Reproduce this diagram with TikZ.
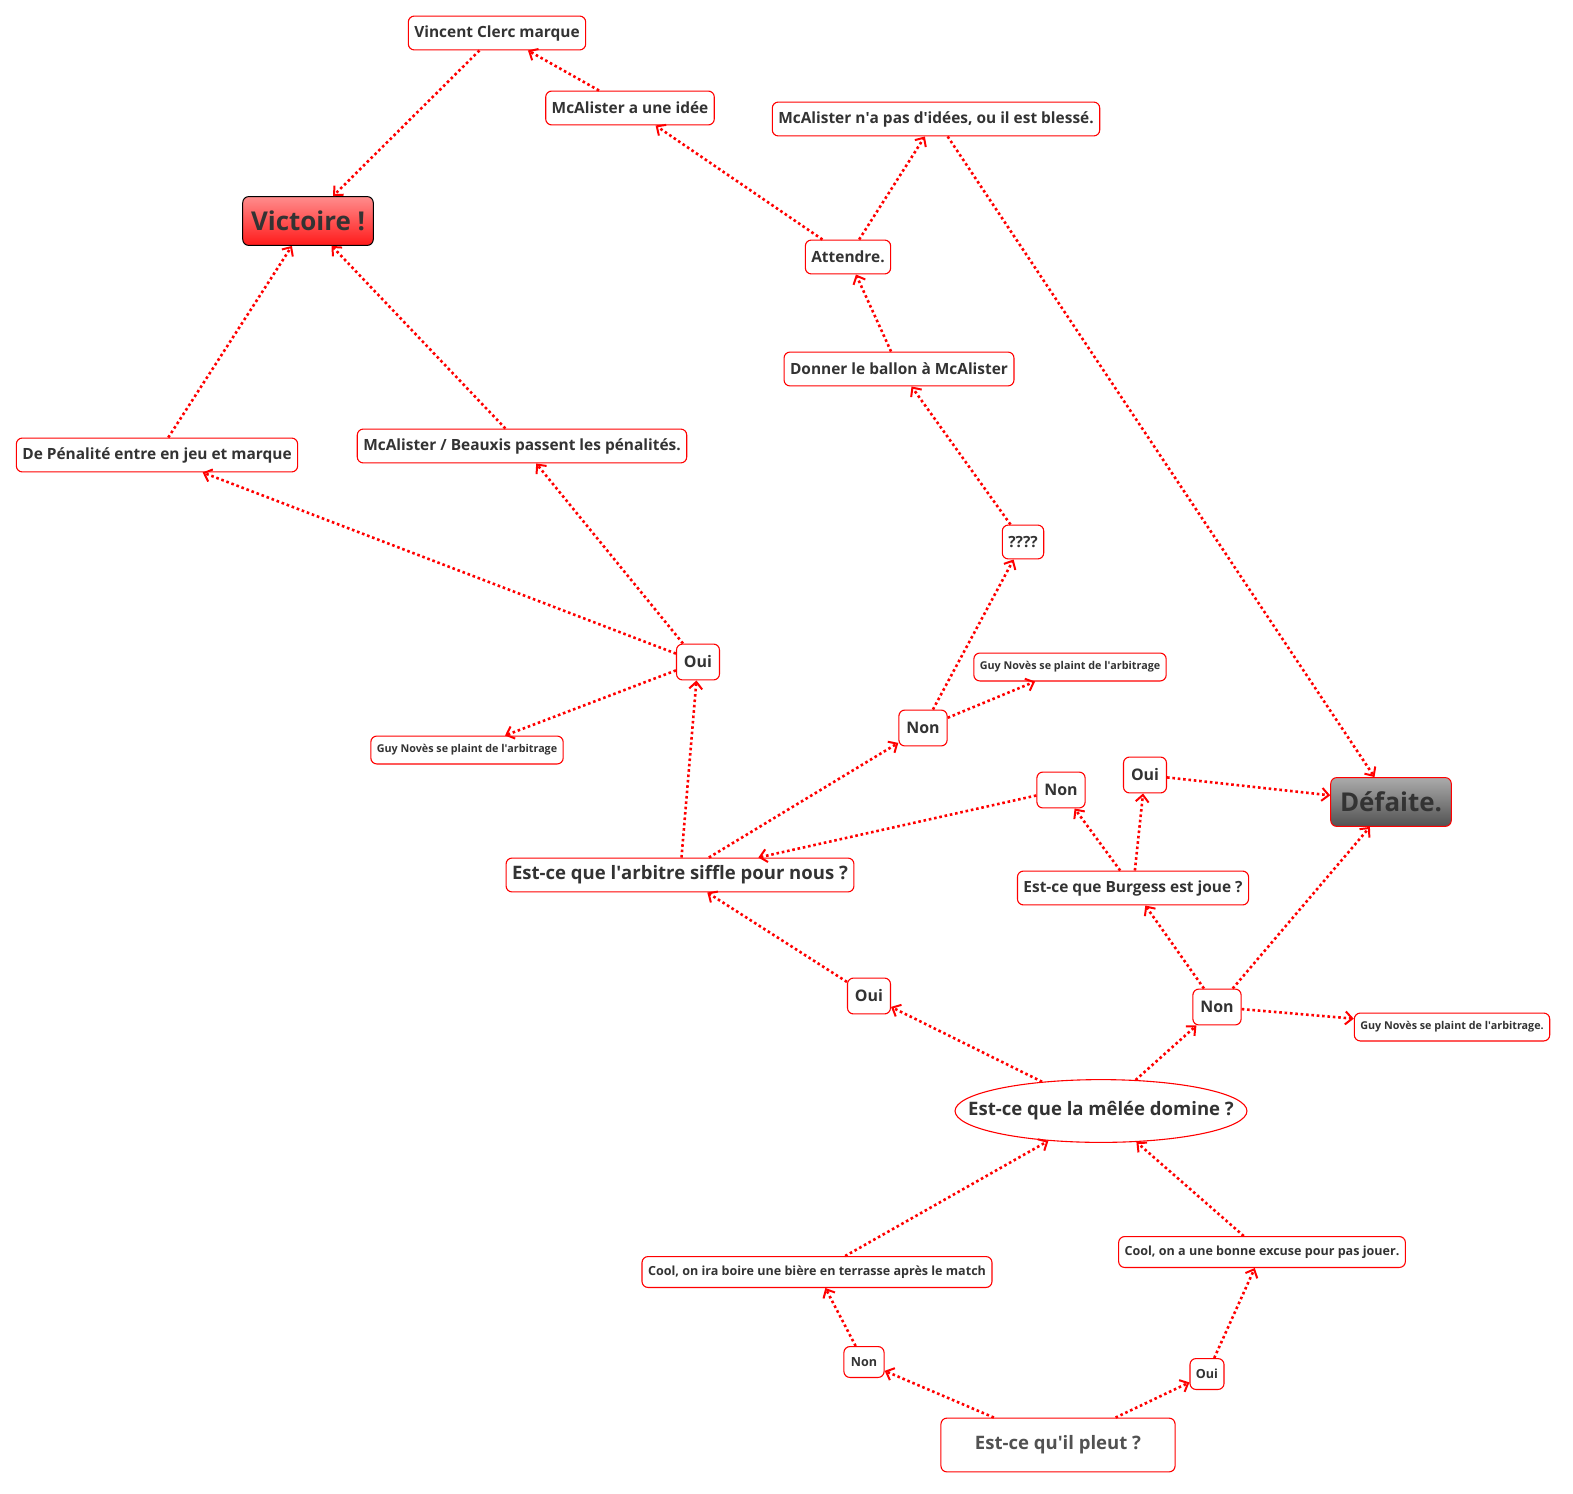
\documentclass[tikz,border=0pt]{standalone}
\usepackage{fontspec}
\setmainfont{Open Sans}
\usetikzlibrary{arrows.meta,shapes.geometric}
\definecolor{txtgray}{HTML}{333333}
\definecolor{vicred}{HTML}{FF1A1A}
\newcommand\apos{\textquotesingle}
\tikzset{
  box/.style={draw=red, fill=white, rounded corners=6pt, line width=1.1pt, text=txtgray,
    font=\bfseries\fontsize{15.5}{18}\selectfont, inner xsep=6pt, minimum height=34pt},
  small/.style={box, font=\bfseries\fontsize{10.8}{13}\selectfont, minimum height=28pt},
  cool/.style={box, font=\bfseries\fontsize{12.6}{15}\selectfont, minimum height=31pt},
  answer/.style={box, font=\bfseries\fontsize{16}{19}\selectfont, minimum height=36pt, inner xsep=7.5pt},
  question/.style={box, font=\bfseries\fontsize{18.6}{22}\selectfont},
  link/.style={red, line width=2.6pt, dash pattern=on 2.6pt off 2.8pt,
    -{Straight Barb[length=7pt,width=13pt,line width=2pt]}}
}
\begin{document}
\begin{tikzpicture}[x=1bp,y=-1bp]
  \useasboundingbox (0,0) rectangle (1573,1494);

  % haut
  \node[box] (clerc) at (497,33) {Vincent Clerc marque};
  \node[box] (idee) at (630,108) {McAlister a une idée};
  \node[box] (pasidee) at (936,119) {McAlister n\apos a pas d\apos idées, ou il est blessé.};
  \node[draw=black, line width=1pt, rounded corners=6pt, top color=red!45, bottom color=vicred,
    text=txtgray, font=\bfseries\fontsize{26}{30}\selectfont, minimum width=131pt,
    minimum height=49pt] (victoire) at (308,221) {Victoire !};
  \node[box] (attendre) at (848,257) {Attendre.};
  \node[box] (donner) at (899,369) {Donner le ballon à McAlister};
  \node[box] (penalite) at (157,455) {De Pénalité entre en jeu et marque};
  \node[box] (passent) at (522,446) {McAlister / Beauxis passent les pénalités.};
  \node[box] (quest) at (1023,542) {????};

  % arbitre
  \node[answer] (ouiarb) at (698,662) {Oui};
  \node[small] (guym) at (1070,667) {Guy Novès se plaint de l\apos arbitrage};
  \node[small] (guyg) at (467,750) {Guy Novès se plaint de l\apos arbitrage};
  \node[answer] (nonarb) at (923,728) {Non};
  \node[answer] (nonburg) at (1061,790) {Non};
  \node[answer] (ouiburg) at (1145,775) {Oui};
  \node[draw=red, line width=1pt, rounded corners=6pt, top color=black!33, bottom color=black!68,
    text=txtgray, font=\bfseries\fontsize{26}{30}\selectfont, minimum width=121pt,
    minimum height=49pt] (defaite) at (1391,802) {Défaite.};
  \node[question] (arbitre) at (680,875) {Est-ce que l\apos arbitre siffle pour nous ?};
  \node[box] (burgess) at (1133,888) {Est-ce que Burgess est joue ?};

  % melee
  \node[answer] (ouimelee) at (869,996) {Oui};
  \node[answer] (nonmelee) at (1217,1007) {Non};
  \node[small] (guyd) at (1452,1027) {Guy Novès se plaint de l\apos arbitrage.};
  \node[ellipse, draw=red, line width=1.1pt, fill=white, text=txtgray,
    font=\bfseries\fontsize{18.6}{22}\selectfont, minimum width=293pt,
    minimum height=63pt, inner xsep=-30pt, inner ysep=0pt] (melee) at (1101,1111) {Est-ce que la mêlée domine ?};

  % pluie
  \node[cool] (biere) at (817,1272) {Cool, on ira boire une bière en terrasse après le match};
  \node[cool] (excuse) at (1262,1252) {Cool, on a une bonne excuse pour pas jouer.};
  \node[cool, inner xsep=7pt] (nonpluie) at (864,1362) {Non};
  \node[cool, inner xsep=6pt] (ouipluie) at (1207,1374) {Oui};
  \node[question, text=black!68, minimum width=235pt, minimum height=54pt] (pleut) at (1058,1445) {Est-ce qu\apos il pleut ?};

  \foreach \a/\b in {pleut/nonpluie, pleut/ouipluie, nonpluie/biere, ouipluie/excuse,
      biere/melee, excuse/melee, melee/ouimelee, melee/nonmelee,
      ouimelee/arbitre, nonmelee/burgess, nonmelee/defaite, nonmelee/guyd,
      burgess/nonburg, burgess/ouiburg, ouiburg/defaite, nonburg/arbitre,
      arbitre/ouiarb, arbitre/nonarb, ouiarb/penalite, ouiarb/passent, ouiarb/guyg,
      nonarb/quest, nonarb/guym, quest/donner, donner/attendre,
      attendre/idee, attendre/pasidee, idee/clerc, clerc/victoire,
      pasidee/defaite, penalite/victoire, passent/victoire}
    \draw[link] (\a) -- (\b);
\end{tikzpicture}
\end{document}
